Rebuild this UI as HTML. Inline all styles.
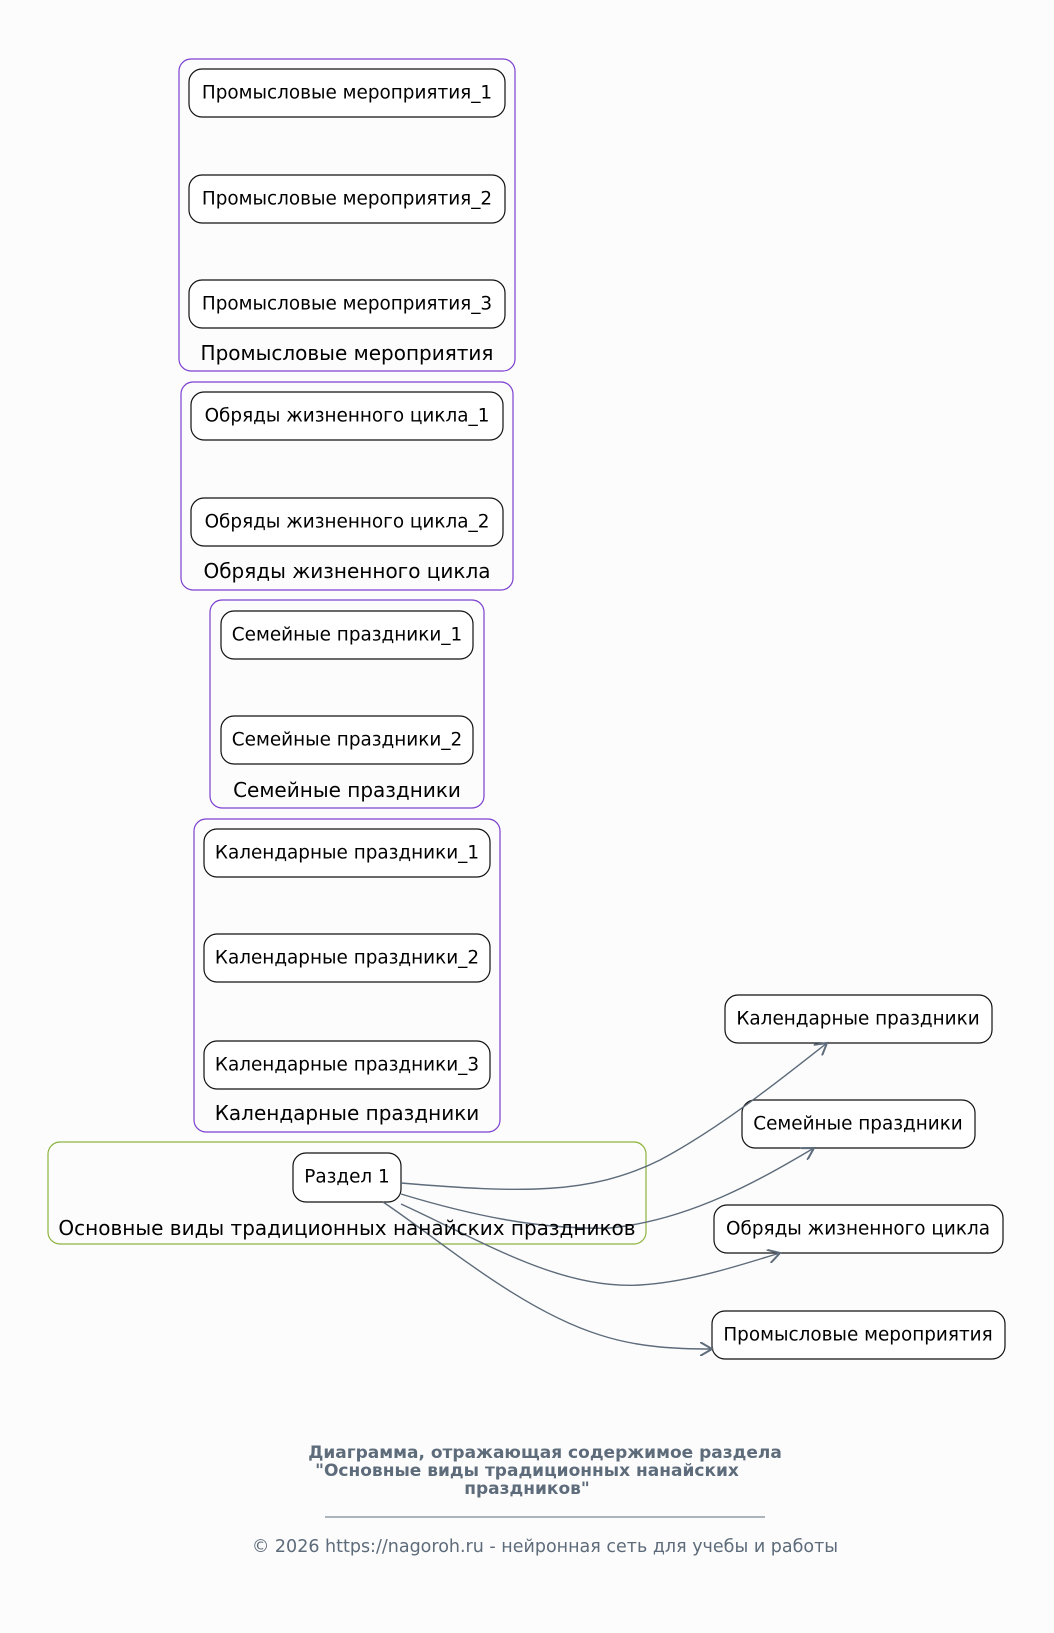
<!DOCTYPE html>
<html><head><meta charset="utf-8"><style>
body{margin:0;background:#fcfcfc;}
svg{display:block;font-family:"DejaVu Sans","Liberation Sans",sans-serif;}
</style></head><body>
<svg width="1054" height="1633" viewBox="0 0 1054 1633" xmlns="http://www.w3.org/2000/svg">
<rect width="1054" height="1633" fill="#fcfcfc"/>
<defs><marker id="a" markerWidth="14" markerHeight="14" refX="12" refY="7" orient="auto" markerUnits="userSpaceOnUse"><path d="M0,0 L12,7 L0,14" fill="none" stroke="#5d6b7a" stroke-width="2"/></marker></defs>
<g fill="none" stroke="#7b3fcf" stroke-width="1.2">
<rect x="179" y="59" width="336" height="312" rx="12"/>
<rect x="181" y="382" width="332" height="208" rx="12"/>
<rect x="210" y="600" width="274" height="208" rx="12"/>
<rect x="194" y="819" width="306" height="313" rx="12"/>
</g>
<rect x="48" y="1142" width="598" height="102" rx="12" fill="none" stroke="#8db33e" stroke-width="1.2"/>
<g fill="#fff" stroke="#111" stroke-width="1.2">
<rect x="189" y="69" width="316" height="48" rx="13"/>
<rect x="189" y="175" width="316" height="48" rx="13"/>
<rect x="189" y="280" width="316" height="48" rx="13"/>
<rect x="191" y="392" width="312" height="48" rx="13"/>
<rect x="191" y="498" width="312" height="48" rx="13"/>
<rect x="221" y="611" width="252" height="48" rx="13"/>
<rect x="221" y="716" width="252" height="48" rx="13"/>
<rect x="204" y="829" width="286" height="48" rx="13"/>
<rect x="204" y="934" width="286" height="48" rx="13"/>
<rect x="204" y="1041" width="286" height="48" rx="13"/>
<rect x="293" y="1153" width="108" height="49" rx="13"/>
<rect x="725" y="995" width="267" height="48" rx="13"/>
<rect x="742" y="1100" width="233" height="48" rx="13"/>
<rect x="714" y="1205" width="289" height="48" rx="13"/>
<rect x="712" y="1311" width="293" height="48" rx="13"/>
</g>
<g fill="none" stroke="#5d6b7a" stroke-width="1.4" marker-end="url(#a)">
<path d="M401,1183 C520,1193 590,1195 660,1160 C720,1128 780,1080 827,1043"/>
<path d="M401,1194 C470,1215 540,1230 610,1228 C690,1220 760,1180 814,1148"/>
<path d="M401,1204 C480,1240 560,1290 640,1285 C690,1282 740,1265 780,1253"/>
<path d="M383,1202 C440,1240 520,1310 600,1335 C640,1348 680,1349 712,1349"/>
</g>
<g font-size="18.4" fill="#000" text-anchor="middle" dominant-baseline="central">
<text x="347" y="93">Промысловые мероприятия_1</text>
<text x="347" y="199">Промысловые мероприятия_2</text>
<text x="347" y="304">Промысловые мероприятия_3</text>
<text x="347" y="416">Обряды жизненного цикла_1</text>
<text x="347" y="522">Обряды жизненного цикла_2</text>
<text x="347" y="635">Семейные праздники_1</text>
<text x="347" y="740">Семейные праздники_2</text>
<text x="347" y="853">Календарные праздники_1</text>
<text x="347" y="958">Календарные праздники_2</text>
<text x="347" y="1065">Календарные праздники_3</text>
<text x="347" y="1177">Раздел 1</text>
<text x="858" y="1019">Календарные праздники</text>
<text x="858" y="1124">Семейные праздники</text>
<text x="858" y="1229">Обряды жизненного цикла</text>
<text x="858" y="1335">Промысловые мероприятия</text>
</g>
<g font-size="20" fill="#000" text-anchor="middle" dominant-baseline="central">
<text x="347" y="353">Промысловые мероприятия</text>
<text x="347" y="571">Обряды жизненного цикла</text>
<text x="347" y="790">Семейные праздники</text>
<text x="347" y="1113">Календарные праздники</text>
<text x="347" y="1228">Основные виды традиционных нанайских праздников</text>
</g>
<g font-size="17" font-weight="bold" fill="#5d6b7a" text-anchor="middle" dominant-baseline="central">
<text x="545" y="1453">Диаграмма, отражающая содержимое раздела</text>
<text x="527" y="1471">"Основные виды традиционных нанайских</text>
<text x="527" y="1489">праздников"</text>
</g>
<line x1="325" y1="1517" x2="765" y2="1517" stroke="#5d6b7a" stroke-width="1"/>
<text x="545" y="1547" font-size="17.5" fill="#5d6b7a" text-anchor="middle" dominant-baseline="central">© 2026 https://nagoroh.ru - нейронная сеть для учебы и работы</text>
</svg>
</body></html>
